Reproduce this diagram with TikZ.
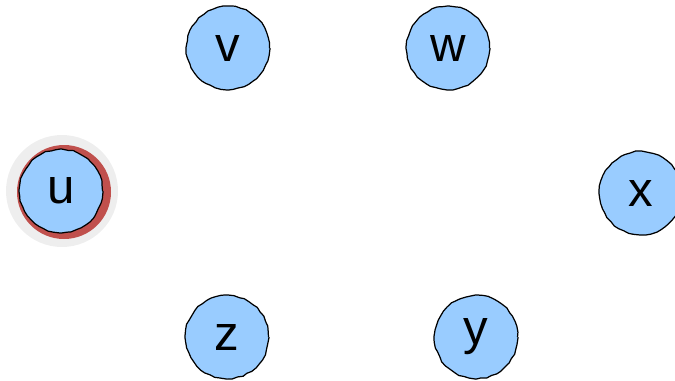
\documentclass[tikz,border=0pt]{standalone}
\usepackage{fontspec}
\setmainfont{Liberation Sans}
\usepackage{xcolor}
\usetikzlibrary{decorations.pathmorphing}
\definecolor{vertexblue}{HTML}{99CCFF}
\definecolor{startred}{HTML}{C0504D}
\definecolor{haloGrey}{HTML}{EEEEEE}

\begin{document}
\begin{tikzpicture}[
  x=0.02cm, y=-0.02cm,
  vertex/.style={circle, draw=black, fill=vertexblue, line width=0.7pt,
    minimum size=1.66cm, inner sep=0pt,
    font=\fontsize{28}{30}\selectfont,
    decorate, decoration={random steps, segment length=3pt, amplitude=0.35pt}},
]
  \useasboundingbox (0,0) rectangle (675,380);

  % Start vertex highlight
  \fill[haloGrey] (62,191) circle (56);
  \fill[startred] (64,192) circle (47);

  % Vertices
  \node[vertex] (u) at (61,191) {u};
  \node[vertex] (v) at (228,48) {v};
  \node[vertex] (w) at (448,48) {w};
  \node[vertex] (x) at (641,193) {x};
  \node[vertex] (z) at (227,337) {z};
  \node[vertex] (y) at (476,337) {y};

\end{tikzpicture}
\end{document}
